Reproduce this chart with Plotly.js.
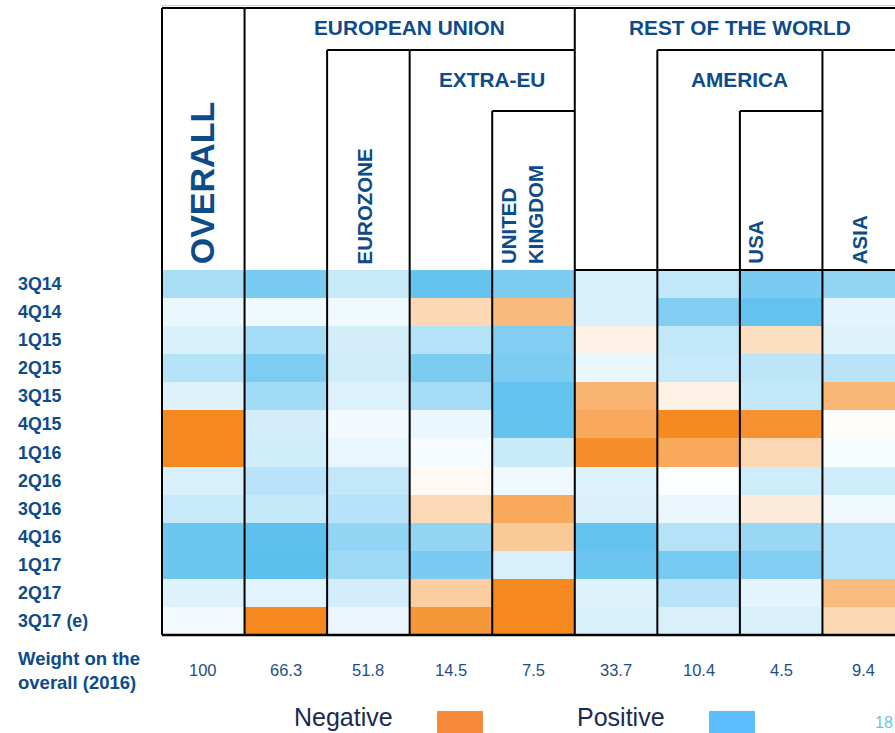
<!DOCTYPE html>
<html>
<head>
<meta charset="utf-8">
<script src="https://cdn.plot.ly/plotly-3.0.1.min.js"></script>
<style>
  html, body { margin: 0; padding: 0; overflow: hidden; background: #ffffff; }
  #chart { width: 906px; height: 733px; }
</style>
</head>
<body>
<div id="chart"></div>
<script>
// Quarters, top to bottom
const quarters = ['3Q14', '4Q14', '1Q15', '2Q15', '3Q15', '4Q15', '1Q16', '2Q16', '3Q16', '4Q16', '1Q17', '2Q17', '3Q17 (e)'];

// Column headings, nesting depth, and last column covered by each heading box
const columnLabels = ['OVERALL', 'EUROPEAN UNION', 'EUROZONE', 'EXTRA-EU', 'UNITED<br>KINGDOM', 'REST OF THE WORLD', 'AMERICA', 'USA', 'ASIA'];
const columnDepth = [0, 0, 1, 1, 2, 0, 1, 2, 1];
const columnSpanEnd = [0, 4, 2, 4, 4, 8, 7, 7, 8];

// Weight on the overall (2016)
const weights = [100, 66.3, 51.8, 14.5, 7.5, 33.7, 10.4, 4.5, 9.4];

// Signal by market and quarter: below 0 negative (orange), above 0 positive (blue)
const overall       = [0.53, 0.13, 0.24, 0.46, 0.20, -1.00, -1.00, 0.24, 0.34, 0.89, 0.89, 0.20, 0.08];
const europeanUnion = [0.82, 0.09, 0.55, 0.79, 0.57, 0.27, 0.30, 0.43, 0.35, 0.98, 1.00, 0.18, -1.00];
const eurozone      = [0.34, 0.09, 0.27, 0.30, 0.22, 0.07, 0.14, 0.38, 0.44, 0.66, 0.59, 0.27, 0.12];
const extraEu       = [0.94, -0.33, 0.46, 0.80, 0.55, 0.13, 0.06, -0.05, -0.32, 0.65, 0.82, -0.42, -0.88];
const unitedKingdom = [0.80, -0.58, 0.76, 0.80, 0.95, 0.94, 0.33, 0.10, -0.73, -0.46, 0.24, -1.00, -1.00];
const restOfWorld   = [0.24, 0.24, -0.11, 0.14, -0.64, -0.73, -0.95, 0.22, 0.23, 0.94, 0.89, 0.20, 0.24];
const america       = [0.37, 0.76, 0.38, 0.34, -0.11, -0.99, -0.73, 0.02, 0.12, 0.46, 0.83, 0.43, 0.23];
const usa           = [0.82, 0.95, -0.28, 0.40, 0.38, -0.92, -0.34, 0.30, -0.17, 0.62, 0.76, 0.17, 0.23];
const asia          = [0.66, 0.17, 0.20, 0.43, -0.61, -0.02, 0.05, 0.30, 0.10, 0.46, 0.46, -0.57, -0.33];

const legendLabels = ['Negative', 'Positive'];
const pageNumber = '18';

// ---- figure geometry ----
const W = 906, H = 733;
const M = { l: 162, r: 1, t: 270, b: 98 };
const plotW = W - M.l - M.r, plotH = H - M.t - M.b;
const px2x = px => (px - M.l) / plotW;           // page pixel -> paper x
const px2y = px => (H - M.b - px) / plotH;       // page pixel -> paper y
const nCols = columnLabels.length;
const colEdge = i => i / nCols;
const depthTopPx = [8, 50, 111];
const depthTop = depthTopPx.map(px2y);

const FONT = 'Liberation Sans, Arial, Helvetica, sans-serif';
const BLUE_TEXT = '#0d4b89';
const NUM_TEXT = '#1f4f82';
const NAVY = '#1b2b4f';
const ORANGE = '#f5891f';
const BLUE = '#5bbfee';

const series = [overall, europeanUnion, eurozone, extraEu, unitedKingdom, restOfWorld, america, usa, asia];
const z = quarters.map((q, r) => series.map(col => col[r]));

const trace = {
  type: 'heatmap',
  x: columnLabels.map((_, i) => i),
  y: quarters,
  z: z,
  zmin: -1,
  zmax: 1,
  colorscale: [[0, ORANGE], [0.5, '#ffffff'], [1, BLUE]],
  showscale: false,
  hoverinfo: 'skip',
  xgap: 0,
  ygap: 0
};

// ---- heading boxes ----
const shapes = [];
const line = (x0, y0, x1, y1, width, color) => ({
  type: 'line', xref: 'paper', yref: 'paper', x0, y0, x1, y1,
  line: { color: color || '#000000', width: width || 2 }
});

// faint rule above the heading block
shapes.push(line(0, px2y(5.5), 1, px2y(5.5), 1, '#cfcfcf'));

columnLabels.forEach((lab, i) => {
  const top = depthTop[columnDepth[i]];
  shapes.push(line(colEdge(i), top, colEdge(i), 0, 2));
  shapes.push(line(colEdge(i), top, colEdge(columnSpanEnd[i] + 1), top, 2));
});
// rest-of-world block is closed along the top of its cells
const rowStart = columnLabels.indexOf('REST OF THE WORLD');
shapes.push(line(colEdge(rowStart), 1, 1, 1, 2));
// bottom rule under the last quarter
shapes.push(line(0, 0, 1, 0, 2.5));

// ---- annotations ----
const annotations = [];

// small nudges for the vertical headings inside their boxes (px)
const leafShift = { 'OVERALL': -1, 'EUROZONE': -4, 'UNITED<br>KINGDOM': -12, 'USA': -26, 'ASIA': -4 };

columnLabels.forEach((lab, i) => {
  const d = columnDepth[i];
  if (columnSpanEnd[i] > i) {
    // group heading, written across its box
    const yMid = (depthTopPx[d] + (depthTopPx[d + 1] || depthTopPx[d] + 42)) / 2 - 1.5;
    annotations.push({
      xref: 'paper', yref: 'paper',
      x: (colEdge(i) + colEdge(columnSpanEnd[i] + 1)) / 2,
      y: px2y(yMid),
      text: '<b>' + lab + '</b>',
      showarrow: false, xanchor: 'center', yanchor: 'middle',
      font: { family: FONT, size: 20.8, color: BLUE_TEXT }
    });
  } else {
    // leaf heading, written upwards from the top of the cells
    annotations.push({
      xref: 'paper', yref: 'paper',
      x: (colEdge(i) + colEdge(i + 1)) / 2,
      xshift: leafShift[lab] || 0,
      y: px2y(265),
      text: '<b>' + lab + '</b>',
      textangle: -90,
      align: 'left',
      showarrow: false, xanchor: 'center', yanchor: 'bottom',
      borderpad: 0,
      font: { family: FONT, size: i === 0 ? 34 : 20.5, color: BLUE_TEXT }
    });
  }
});

// quarter labels
quarters.forEach(q => {
  annotations.push({
    xref: 'paper', yref: 'y', x: px2x(17), y: q,
    text: '<b>' + q + '</b>',
    showarrow: false, xanchor: 'left', yanchor: 'middle', borderpad: 0,
    font: { family: FONT, size: 17.8, color: BLUE_TEXT }
  });
});

// weights row
annotations.push({
  xref: 'paper', yref: 'paper', x: px2x(17), y: px2y(670),
  text: '<b>Weight on the<br>overall (2016)</b>', align: 'left',
  showarrow: false, xanchor: 'left', yanchor: 'middle', borderpad: 0,
  font: { family: FONT, size: 18.5, color: BLUE_TEXT }
});
weights.forEach((w, i) => {
  annotations.push({
    xref: 'paper', yref: 'paper',
    x: (colEdge(i) + colEdge(i + 1)) / 2, y: px2y(670),
    text: String(w),
    showarrow: false, xanchor: 'center', yanchor: 'middle',
    font: { family: FONT, size: 16.5, color: NUM_TEXT }
  });
});

// legend
const legendSwatch = ['#f68a38', '#5cbefc'];
const legendTextPx = [293, 576];
const legendBoxPx = [[437, 483], [709, 755]];
legendLabels.forEach((lab, k) => {
  annotations.push({
    xref: 'paper', yref: 'paper', x: px2x(legendTextPx[k]), y: px2y(717),
    text: lab, showarrow: false, xanchor: 'left', yanchor: 'middle', borderpad: 0,
    font: { family: FONT, size: 25, color: NAVY }
  });
  shapes.push({
    type: 'rect', xref: 'paper', yref: 'paper',
    x0: px2x(legendBoxPx[k][0]), x1: px2x(legendBoxPx[k][1]),
    y0: px2y(711), y1: px2y(745),
    fillcolor: legendSwatch[k], line: { width: 0 }
  });
});

// page number
annotations.push({
  xref: 'paper', yref: 'paper', x: px2x(874), y: px2y(722),
  text: pageNumber, showarrow: false, xanchor: 'left', yanchor: 'middle', borderpad: 0,
  font: { family: FONT, size: 16, color: '#6cc0f0' }
});

const layout = {
  width: W, height: H,
  margin: M,
  paper_bgcolor: '#ffffff', plot_bgcolor: '#ffffff',
  xaxis: { range: [-0.5, nCols - 0.5], visible: false, fixedrange: true },
  yaxis: { type: 'category', range: [quarters.length - 0.5, -0.5], visible: false, fixedrange: true },
  shapes: shapes,
  annotations: annotations,
  showlegend: false
};

Plotly.newPlot('chart', [trace], layout, { displayModeBar: false, staticPlot: true });
</script>
</body>
</html>
